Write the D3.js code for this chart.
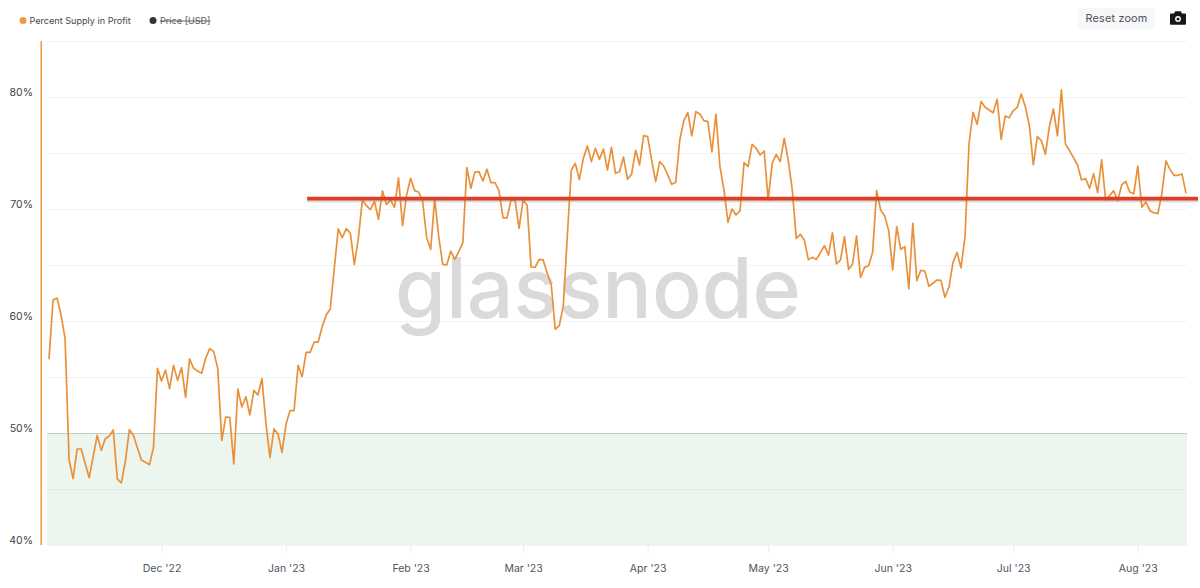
<!DOCTYPE html>
<html><head><meta charset="utf-8">
<script src="https://cdn.jsdelivr.net/npm/d3@7"></script>
<style>html,body{margin:0;padding:0;background:#fff}svg{display:block}text{font-family:Inter,"Noto Sans",sans-serif}</style>
</head><body><svg id="c" width="1200" height="588"></svg>
<script>
const seriesName = "Percent Supply in Profit";
const hiddenSeriesName = "Price [USD]";
const startDate = "2022-11-03";
const supplyInProfit = [
56.58,61.87,62.05,60.53,58.45,47.59,45.92,48.57,48.57,47.29,46.01,47.89,49.79,48.45,49.49,49.73,50.27,45.89,45.54,47.44,
50.30,49.79,48.69,47.59,47.38,47.17,48.69,55.77,54.64,55.62,53.96,56.04,54.70,55.83,53.18,56.61,55.77,55.53,55.33,56.67,
57.53,57.26,55.77,49.34,51.43,51.40,47.23,53.93,52.32,53.24,51.61,53.81,53.39,54.85,50.86,47.80,50.36,49.91,48.27,50.80,
52.0,52.0,56.04,55.03,57.2,57.2,58.12,58.12,59.49,60.53,61.07,64.67,68.22,67.44,68.25,67.83,65.06,67.38,70.8,70.3,
69.94,70.69,69.08,71.61,70.39,70.8,70.15,72.77,68.51,71.25,72.74,71.64,71.52,70.66,67.44,66.4,70.95,67.53,65.06,65.0,
66.25,65.51,66.19,66.99,73.69,71.85,73.3,73.34,72.5,73.54,72.35,72.35,71.64,69.2,69.2,70.8,70.8,68.28,70.8,70.36,
64.82,64.79,65.51,65.45,64.26,63.28,59.26,59.59,61.28,67.53,73.48,74.08,72.62,74.52,75.63,74.23,75.42,74.43,75.36,73.48,
75.5,73.19,73.33,74.64,72.65,73.1,75.24,73.93,76.55,76.46,74.37,72.44,74.23,73.84,73.04,72.2,72.38,76.16,77.89,78.6,
76.52,78.69,78.48,77.89,77.8,75.09,78.48,73.78,71.7,68.81,70.0,69.46,69.85,74.14,73.78,75.77,75.42,74.82,75.18,70.8,
74.08,74.88,74.23,76.31,74.37,71.7,67.38,67.74,67.23,65.48,65.68,65.5,66.1,66.73,65.89,67.89,65.09,65.45,67.53,64.61,
65.09,67.59,63.9,64.79,64.94,66.13,71.64,69.91,69.38,68.07,64.56,68.42,66.4,66.64,62.86,68.72,63.6,64.53,64.44,63.1,
63.37,63.66,63.63,62.12,63.01,65.21,66.13,64.76,67.53,75.87,78.63,77.56,79.59,79.08,78.84,78.6,79.79,76.22,78.3,78.15,
78.78,79.08,80.27,79.14,77.5,73.93,76.46,76.1,74.88,77.35,78.93,76.52,80.63,75.8,75.21,74.59,73.93,72.59,72.71,71.85,
73.16,71.46,74.38,70.8,71.19,71.64,70.75,72.15,72.47,71.52,71.34,73.84,70.15,70.63,69.85,69.67,69.58,71.4,74.29,73.54,
73.01,73.01,73.13,71.4];
const yTicks = [40,50,60,70,80];
const yGrid = [40,45,50,55,60,65,70,75,80,85];
const xTickDates = ["2022-12-01","2023-01-01","2023-02-01","2023-03-01","2023-04-01","2023-05-01","2023-06-01","2023-07-01","2023-08-01"];
const xTickLabels = ["Dec '22","Jan '23","Feb '23","Mar '23","Apr '23","May '23","Jun '23","Jul '23","Aug '23"];
const levelValue = 70.93;
const levelStart = "2023-01-06";
const bandRange = [40,50];

const svg = d3.select("#c");
const DAY = 864e5, t0 = new Date(startDate+"T00:00:00Z").getTime();
const dates = supplyInProfit.map((_,i)=>new Date(t0+i*DAY));
const x = d3.scaleUtc().domain([dates[0],dates[dates.length-1]]).range([49,1186]);
const y = d3.scaleLinear().domain([40,85]).range([545,41]);
const left=47,right=1187;

// band
svg.append("rect").attr("x",left).attr("width",right-left)
  .attr("y",y(bandRange[1])).attr("height",y(bandRange[0])-y(bandRange[1])).attr("fill","#edf5ef");
// grid
svg.append("g").selectAll("line").data(yGrid).join("line")
  .attr("x1",left).attr("x2",right).attr("y1",d=>y(d)+.5).attr("y2",d=>y(d)+.5)
  .attr("stroke",d=>d===50?"#b9cfc2":(d<50&&d>40?"#e4ebe6":"#f1f2f3")).attr("stroke-width",1);
// watermark
svg.append("text").attr("x",395).attr("y",318).attr("font-size",84).attr("font-weight",500)
  .attr("fill","#dadada").attr("textLength",406).attr("lengthAdjust","spacingAndGlyphs").text("glassnode");
// x axis
const xAxis = d3.axisBottom(x).tickValues(xTickDates.map(d=>new Date(d+"T00:00:00Z")))
  .tickFormat((d,i)=>xTickLabels[i]).tickSize(8).tickPadding(12);
const gx = svg.append("g").attr("transform","translate(0,545)").call(xAxis);
gx.select(".domain").remove();
gx.selectAll("line").attr("stroke","#eceef0");
gx.selectAll("text").attr("fill","#50555c").attr("font-size",10.5);
// y axis
const yAxis = d3.axisLeft(y).tickValues(yTicks).tickFormat(d=>d+"%").tickSize(0).tickPadding(0);
const gy = svg.append("g").attr("transform","translate(33,0)").call(yAxis);
gy.select(".domain").remove();
gy.selectAll("text").attr("fill","#3c4046").attr("font-size",10.5).attr("dy","-0.18em");
svg.append("line").attr("x1",41.25).attr("x2",41.25).attr("y1",y(85)).attr("y2",y(40)).attr("stroke","#ef9a4a").attr("stroke-width",1.6);
// series
svg.append("path").datum(supplyInProfit).attr("fill","none").attr("stroke","#e8913a").attr("stroke-width",1.7)
  .attr("stroke-linejoin","round")
  .attr("d",d3.line().x((d,i)=>x(dates[i])).y(d=>y(d)));
// annotated level
const lx1=x(new Date(levelStart+"T00:00:00Z"))+1;
svg.append("line").attr("x1",lx1).attr("x2",1198).attr("y1",y(levelValue)+2.5).attr("y2",y(levelValue)+2.5).attr("stroke","#999").attr("stroke-opacity",.35).attr("stroke-width",3);
svg.append("line").attr("x1",lx1).attr("x2",1198).attr("y1",y(levelValue)).attr("y2",y(levelValue)).attr("stroke","#e03e24").attr("stroke-width",3.6);
// legend
svg.append("circle").attr("cx",23).attr("cy",20.5).attr("r",3.5).attr("fill","#f09a3e");
svg.append("text").attr("x",29.5).attr("y",24).attr("font-size",9.1).attr("fill","#43474d").text(seriesName);
svg.append("circle").attr("cx",153).attr("cy",20.5).attr("r",3.5).attr("fill","#34363a");
svg.append("text").attr("x",160).attr("y",24).attr("font-size",9.1).attr("fill","#55595f").attr("text-decoration","line-through").text(hiddenSeriesName);
// button
svg.append("rect").attr("x",1078).attr("y",8).attr("width",77).attr("height",21).attr("rx",3).attr("fill","#f6f7f8");
svg.append("text").attr("x",1116.5).attr("y",22).attr("text-anchor","middle").attr("font-size",10.8).attr("letter-spacing",".2").attr("fill","#4c5158").text("Reset zoom");
// camera icon
const cam=svg.append("g").attr("transform","translate(1170,11)");
cam.append("path").attr("d","M0,3.5 a1,1 0 0 1 1,-1 h3 l1.2,-2.2 h5.6 l1.2,2.2 h3 a1,1 0 0 1 1,1 v9.3 a1,1 0 0 1 -1,1 h-14 a1,1 0 0 1 -1,-1 z").attr("fill","#15171a");
cam.append("circle").attr("cx",8).attr("cy",8).attr("r",2.2).attr("fill","none").attr("stroke","#fff").attr("stroke-width",1.4);
</script></body></html>
